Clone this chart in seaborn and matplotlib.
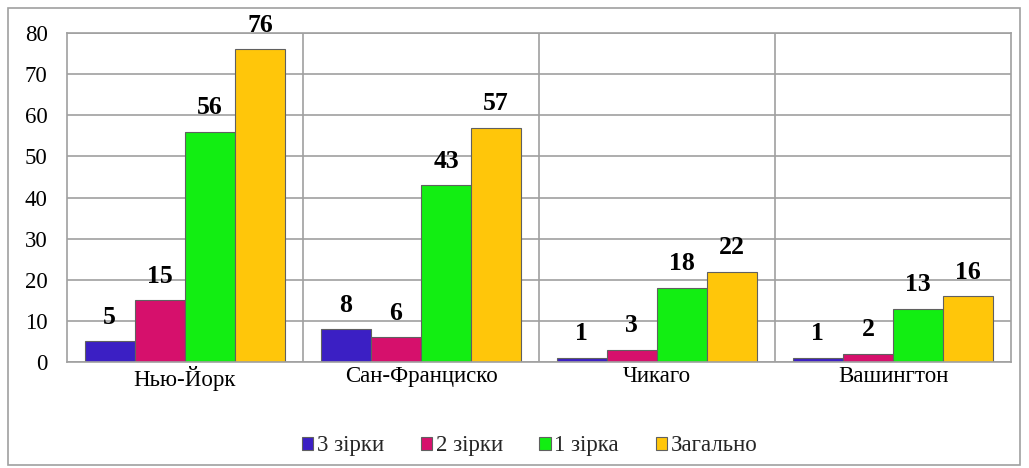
import matplotlib
matplotlib.use("Agg")
import matplotlib.pyplot as plt
import seaborn as sns
import pandas as pd
from matplotlib.patches import Rectangle

cities = ["Нью-Йорк", "Сан-Франциско", "Чикаго", "Вашингтон"]
series = ["3 зірки", "2 зірки", "1 зірка", "Загально"]
v3 = [5, 8, 1, 1]
v2 = [15, 6, 3, 2]
v1 = [56, 43, 18, 13]
vt = [76, 57, 22, 16]
colors = ["#3b1fc4", "#d6106c", "#12ee12", "#ffc60a"]

rows = []
for s, vals in zip(series, [v3, v2, v1, vt]):
    for c, v in zip(cities, vals):
        rows.append({"city": c, "series": s, "value": v})
df = pd.DataFrame(rows)

sns.set_theme(style="white")
plt.rcParams["font.family"] = "serif"
plt.rcParams["font.serif"] = ["Liberation Serif", "DejaVu Serif"]

fig = plt.figure(figsize=(10.29, 4.68), dpi=100)
ax = fig.add_axes([67/1029, 1-362/468, (1011-67)/1029, (362-33)/468])

sns.barplot(data=df, x="city", y="value", hue="series", palette=colors,
            width=0.85, ax=ax, legend=True, edgecolor="#606060", linewidth=0.8,
            saturation=1)

for cont in ax.containers:
    ax.bar_label(cont, padding=9, fontsize=18.5, fontweight="bold", color="black")

ax.set_ylim(0, 80)
ax.set_xlim(-0.5, 3.5)
ax.set_yticks(range(0, 81, 10))
ax.set_xlabel("")
ax.set_ylabel("")
ax.grid(axis="y", color="#a0a0a0", linewidth=1.2)
for xv in [0.5, 1.5, 2.5]:
    ax.axvline(xv, color="#a0a0a0", linewidth=1.2, zorder=0)
ax.set_axisbelow(True)
for sp in ax.spines.values():
    sp.set_color("#a0a0a0")
    sp.set_linewidth(1.2)
ax.tick_params(axis="both", labelsize=16.5, colors="black", length=0)
ax.tick_params(axis="y", pad=14)
ax.tick_params(axis="x", pad=3)

leg = ax.legend(loc="upper center", bbox_to_anchor=(0.49, -0.16), ncol=4,
                frameon=False, fontsize=16.5, handlelength=0.5, handleheight=0.5,
                handletextpad=0.15, columnspacing=1.6)

# outer border
fig.patches.append(Rectangle((8/1029, 3/468), 1012/1029, 457/468,
                             transform=fig.transFigure, fill=False,
                             edgecolor="#a0a0a0", linewidth=1.2))

fig.savefig("out.png", dpi=100)
